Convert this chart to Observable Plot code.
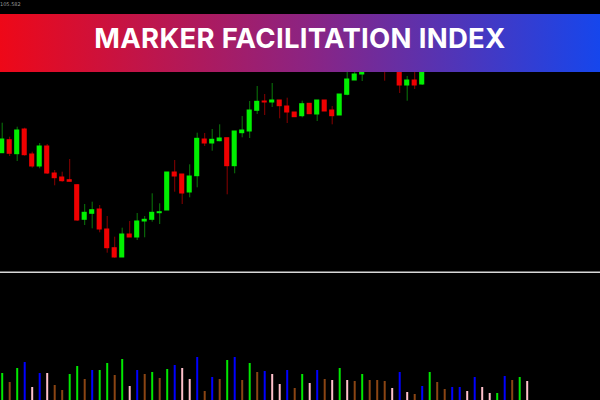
<!DOCTYPE html>
<html>
<head>
<meta charset="utf-8">
<script src="https://cdn.jsdelivr.net/npm/d3@7"></script>
<script src="https://cdn.jsdelivr.net/npm/@observablehq/plot@0.6"></script>
<style>
  html, body { margin: 0; padding: 0; background: #000; }
  #wrap { position: relative; width: 600px; height: 400px; background: #000; overflow: hidden; }
  #wrap svg { display: block; }
  #banner {
    position: absolute; left: 0; top: 14px; width: 600px; height: 58px;
    background: linear-gradient(90deg, #ee0818 0%, #8a2484 52%, #1646ec 100%);
  }
  #title {
    position: absolute; left: 0; top: 6px; width: 600px; text-align: center;
    font-family: "Inter", "Open Sans", sans-serif; font-weight: 700; font-size: 27.5px;
    color: #fff; letter-spacing: 0.3px; line-height: 36px;
  }
  #price {
    position: absolute; left: 0; top: 1px; font-family: "DejaVu Sans", sans-serif;
    font-size: 5px; color: #9a9a9a; line-height: 6px;
  }
</style>
</head>
<body>
<div id="wrap">
  <div id="topChart"></div>
  <div id="bottomChart"></div>
  <div id="price">105.582</div>
  <div id="banner"><div id="title">MARKER FACILITATION INDEX</div></div>
</div>
<script>
// Candlestick prices (one per bar)
const opens  = [104.73,106.03,104.63,107.10,104.60,103.40,105.40,102.70,102.30,102.03,101.53,98.07,98.67,99.10,97.10,95.23,94.30,96.60,96.30,97.90,98.07,98.73,99.00,102.80,102.60,100.80,102.43,106.10,105.70,105.93,106.23,103.43,106.73,106.90,108.97,109.90,109.80,110.00,109.40,108.80,108.43,109.67,108.60,110.00,109.00,108.50,110.57,112.00,112.60,112.90,115.00,114.00,113.20,114.20,111.50,112.00,111.60,113.80,116.00];
const closes = [106.10,104.67,107.00,104.53,103.40,105.40,102.70,102.23,101.93,101.87,98.00,98.77,99.03,97.10,95.23,94.30,96.60,96.30,97.90,98.07,98.77,98.83,102.80,102.40,100.70,102.40,106.17,105.70,106.07,106.20,103.43,106.90,107.00,109.00,109.87,109.80,110.00,109.43,108.80,108.33,109.63,108.63,110.00,108.90,108.43,110.60,112.10,112.60,112.80,114.80,114.00,113.20,114.20,111.50,112.00,111.50,114.00,116.00,117.80];
const highs  = [107.73,106.33,107.33,107.23,104.83,105.70,105.60,103.00,102.83,104.10,101.60,99.60,99.83,99.50,98.40,96.33,97.23,97.90,98.70,98.40,100.67,99.67,102.80,104.00,102.60,103.57,106.73,106.70,107.10,107.57,106.23,106.90,108.40,109.90,111.40,110.60,111.70,110.00,110.23,108.80,109.93,109.67,110.00,110.00,109.40,110.60,112.80,113.00,113.20,115.20,115.50,114.80,114.60,114.80,112.40,112.80,114.50,116.50,118.60];
const lows   = [104.70,104.40,103.90,104.43,103.23,103.17,102.60,101.47,101.83,101.87,97.90,97.50,97.17,96.77,94.73,94.23,94.30,96.30,96.00,96.27,97.83,97.60,99.00,100.83,99.60,100.27,101.27,105.40,104.93,105.87,100.57,102.67,106.27,106.20,108.60,108.50,109.30,108.17,107.70,108.33,108.27,108.63,107.90,108.90,107.57,108.50,110.47,112.00,111.90,112.90,113.40,111.93,113.00,110.70,109.93,111.10,111.50,113.40,115.50];

// Market Facilitation Index histogram
const mfiValues = [2.7,1.8,3.2,3.8,1.3,2.7,2.7,1.5,1.0,2.6,3.4,2.1,3.0,3.0,3.7,2.5,4.1,1.4,3.0,2.6,2.8,2.2,3.1,3.5,3.2,2.1,4.3,0.9,2.3,2.1,4.0,4.3,2.0,3.7,2.8,2.9,2.6,1.6,3.0,1.2,2.6,1.7,3.0,2.1,2.0,3.2,2.0,1.9,2.6,2.0,2.0,1.9,1.2,2.8,0.8,0.6,1.4,2.8,1.8,1.1,1.3,1.3,0.9,2.3,1.3,0.7,0.7,2.4,2.0,2.3,1.9];
const mfiKinds  = ["green","fade","green","fake","squat","fake","squat","fade","fade","green","green","fade","fake","green","green","fade","green","squat","fake","fade","green","fade","green","fake","squat","squat","fake","fade","fake","fade","green","fake","fade","green","fade","fake","squat","squat","fake","fade","green","squat","fake","fade","squat","green","squat","fade","green","fade","fade","fade","squat","fake","squat","fade","fake","green","fade","fade","fake","fake","squat","fake","squat","squat","green","fake","fade","green","squat"];
const kindDomain = ["green","fade","fake","squat"];
const kindColors = ["#00e800","#8b4513","#0000ff","#ffc0cb"];

const candles = opens.map((o, i) => ({i, open: o, close: closes[i], high: highs[i], low: lows[i], up: closes[i] >= o}));
const mfi = mfiValues.map((v, i) => ({i, value: v, kind: mfiKinds[i]}));

const xDomain = [-0.227, 79.773];

const priceChart = Plot.plot({
  width: 600, height: 273, margin: 0,
  style: {background: "#000"},
  x: {domain: xDomain, axis: null},
  y: {domain: [92.7, 120], axis: null},
  marks: [
    Plot.ruleX(candles, {x: "i", y1: "low", y2: "high", stroke: d => d.up ? "#0a7a0a" : "#8a0000", strokeWidth: 1}),
    Plot.rect(candles, {x1: d => d.i - 0.34, x2: d => d.i + 0.34, y1: "open", y2: "close", fill: d => d.up ? "#00f000" : "#f00000", insetTop: -0.5, insetBottom: -0.5}),
    Plot.ruleY([92.8], {stroke: "#d8d8d8", strokeWidth: 2})
  ]
});
document.getElementById("topChart").appendChild(priceChart);

const mfiChart = Plot.plot({
  width: 600, height: 127, margin: 0,
  style: {background: "#000"},
  x: {domain: xDomain, axis: null},
  y: {domain: [0, 12.7], axis: null},
  color: {domain: kindDomain, range: kindColors},
  marks: [
    Plot.ruleX(mfi, {x: "i", y1: 0, y2: "value", stroke: "kind", strokeWidth: 2})
  ]
});
document.getElementById("bottomChart").appendChild(mfiChart);
</script>
</body>
</html>
